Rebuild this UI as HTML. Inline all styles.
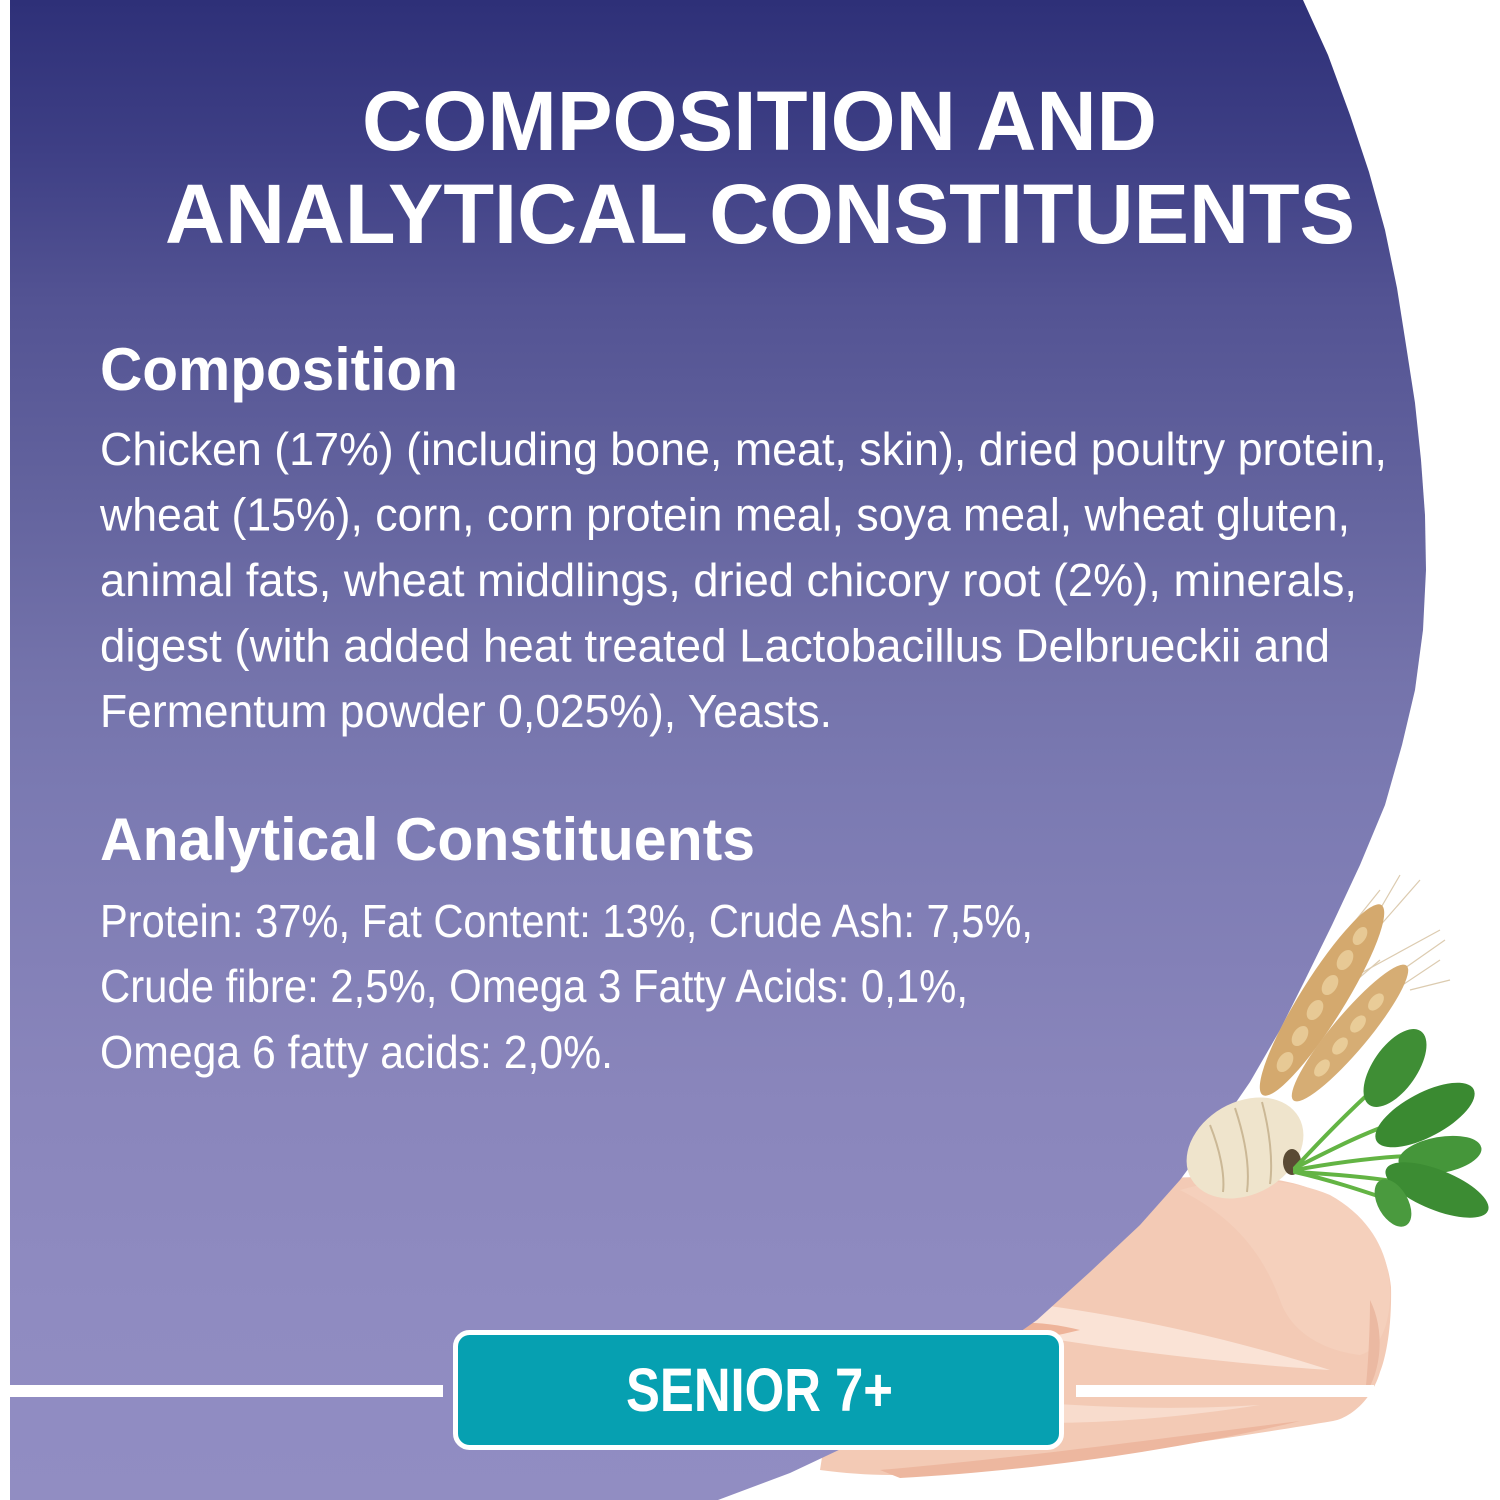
<!DOCTYPE html>
<html>
<head>
<meta charset="utf-8">
<style>
html,body{margin:0;padding:0;background:#fff;}
svg{display:block;}
</style>
</head>
<body>
<svg width="1500" height="1500" viewBox="0 0 1500 1500" xmlns="http://www.w3.org/2000/svg">
<defs>
<linearGradient id="bg" gradientUnits="userSpaceOnUse" x1="0" y1="0" x2="0" y2="1500">
<stop offset="0" stop-color="#2e3078"/>
<stop offset="0.1" stop-color="#3e3f85"/>
<stop offset="0.2" stop-color="#535393"/>
<stop offset="0.33" stop-color="#63639e"/>
<stop offset="0.45" stop-color="#7473ab"/>
<stop offset="0.53" stop-color="#7b7ab2"/>
<stop offset="0.72" stop-color="#8985bb"/>
<stop offset="0.87" stop-color="#8f8bc1"/>
<stop offset="1" stop-color="#918dc2"/>
</linearGradient>
</defs>
<rect width="1500" height="1500" fill="#fff"/>

<!-- chicken (under purple) -->
<g>
<path d="M860,1215 C1000,1190 1150,1172 1262,1178 C1340,1185 1385,1230 1391,1287 C1392,1330 1385,1360 1380,1372 C1372,1400 1350,1418 1333,1421 C1250,1435 1120,1455 1000,1467 C930,1476 880,1478 820,1470 Z" fill="#f3cab5"/>
<path d="M1180,1190 C1230,1175 1290,1178 1330,1195 C1375,1220 1392,1260 1390,1300 C1388,1330 1378,1350 1360,1355 C1320,1350 1290,1330 1280,1300 C1265,1260 1240,1220 1180,1190 Z" fill="#f5d0bc"/>
<path d="M1000,1300 C1100,1310 1220,1335 1330,1370 C1250,1365 1120,1352 1000,1330 Z" fill="#fae3d6"/>
<path d="M960,1330 C1000,1320 1040,1320 1080,1330 C1040,1340 1000,1345 960,1345 Z" fill="#eeb49a"/>
<path d="M950,1395 C1050,1405 1150,1412 1260,1405 C1150,1422 1050,1428 950,1418 Z" fill="#f8dccd"/>
<path d="M880,1470 C1000,1460 1150,1440 1300,1421 C1200,1445 1050,1470 900,1478 Z" fill="#edb79f"/>
<path d="M1370,1300 C1385,1330 1382,1370 1365,1395 C1368,1370 1370,1330 1370,1300 Z" fill="#ebb9a2"/>
</g>

<!-- purple shape -->
<polygon fill="url(#bg)" points="10,0 1303,0 1328,55 1350,115 1369,172 1385,230 1397,288 1406,345 1415,403 1421,460 1425,515 1426,570 1423,630 1415,690 1402,745 1385,805 1360,865 1332,925 1305,980 1280,1030 1250,1082 1217,1130 1180,1180 1140,1225 1090,1272 1037,1320 980,1360 920,1400 860,1440 790,1473 718,1500 10,1500"/>

<!-- wheat -->
<g>
<g stroke="#dccbb0" stroke-width="1.2" fill="none">
<line x1="1330" y1="990" x2="1440" y2="930"/>
<line x1="1350" y1="960" x2="1420" y2="880"/>
<line x1="1365" y1="935" x2="1400" y2="875"/>
<line x1="1380" y1="1000" x2="1440" y2="960"/>
<line x1="1395" y1="975" x2="1445" y2="940"/>
<line x1="1310" y1="1020" x2="1380" y2="960"/>
<line x1="1340" y1="940" x2="1380" y2="890"/>
<line x1="1300" y1="1050" x2="1350" y2="980"/>
<line x1="1410" y1="990" x2="1450" y2="980"/>
</g>
<ellipse cx="1322" cy="1000" rx="112" ry="22" transform="rotate(-58 1322 1000)" fill="#d4a96e"/>
<g fill="#e7c995">
<ellipse cx="1285" cy="1062" rx="11" ry="7" transform="rotate(-58 1285 1062)"/>
<ellipse cx="1300" cy="1036" rx="11" ry="7" transform="rotate(-58 1300 1036)"/>
<ellipse cx="1315" cy="1010" rx="11" ry="7" transform="rotate(-58 1315 1010)"/>
<ellipse cx="1330" cy="985" rx="11" ry="7" transform="rotate(-58 1330 985)"/>
<ellipse cx="1345" cy="960" rx="11" ry="7" transform="rotate(-58 1345 960)"/>
<ellipse cx="1360" cy="936" rx="10" ry="6" transform="rotate(-58 1360 936)"/>
</g>
<ellipse cx="1350" cy="1033" rx="88" ry="18" transform="rotate(-50 1350 1033)" fill="#d6ad74"/>
<g fill="#e9cc98">
<ellipse cx="1322" cy="1068" rx="10" ry="6" transform="rotate(-50 1322 1068)"/>
<ellipse cx="1340" cy="1046" rx="10" ry="6" transform="rotate(-50 1340 1046)"/>
<ellipse cx="1358" cy="1024" rx="10" ry="6" transform="rotate(-50 1358 1024)"/>
<ellipse cx="1376" cy="1002" rx="10" ry="6" transform="rotate(-50 1376 1002)"/>
</g>
</g>

<!-- root -->
<g>
<ellipse cx="1245" cy="1148" rx="62" ry="46" transform="rotate(-30 1245 1148)" fill="#efe4cc"/>
<g stroke="#cbb896" stroke-width="2" fill="none">
<path d="M1210,1125 C1220,1150 1225,1175 1223,1192"/>
<path d="M1235,1108 C1245,1138 1250,1168 1247,1192"/>
<path d="M1262,1102 C1270,1132 1273,1162 1270,1184"/>
</g>
<ellipse cx="1292" cy="1162" rx="9" ry="13" fill="#5a4a34"/>
</g>

<!-- spinach -->
<g>
<g stroke="#63b444" stroke-width="4" fill="none" stroke-linecap="round">
<path d="M1295,1168 C1330,1130 1360,1100 1395,1070"/>
<path d="M1295,1168 C1340,1145 1380,1125 1420,1115"/>
<path d="M1295,1170 C1350,1160 1400,1155 1440,1155"/>
<path d="M1295,1172 C1350,1175 1400,1180 1440,1190"/>
<path d="M1295,1172 C1330,1180 1360,1190 1390,1200"/>
</g>
<ellipse cx="1395" cy="1068" rx="45" ry="22" transform="rotate(-55 1395 1068)" fill="#3f8e35"/>
<ellipse cx="1425" cy="1115" rx="55" ry="22" transform="rotate(-28 1425 1115)" fill="#3a8a31"/>
<ellipse cx="1440" cy="1155" rx="42" ry="18" transform="rotate(-10 1440 1155)" fill="#45963a"/>
<ellipse cx="1437" cy="1190" rx="55" ry="20" transform="rotate(22 1437 1190)" fill="#3c8c33"/>
<ellipse cx="1393" cy="1203" rx="26" ry="15" transform="rotate(60 1393 1203)" fill="#4a9a3e"/>
</g>

<!-- white lines -->
<rect x="10" y="1385" width="433" height="12" fill="#fff"/>
<rect x="1076" y="1385" width="298" height="12" fill="#fff"/>

<!-- senior box -->
<rect x="455.5" y="1332.5" width="606" height="115" rx="14" ry="14" fill="#06a0b1" stroke="#fff" stroke-width="5"/>
<text x="626" y="1411" font-family="'Liberation Sans Narrow','Liberation Sans',sans-serif" font-weight="bold" font-size="61" fill="#fff" textLength="267" lengthAdjust="spacingAndGlyphs">SENIOR 7+</text>

<!-- title -->
<g font-family="'Liberation Sans',sans-serif" font-weight="bold" fill="#fff">
<text x="362" y="150" font-size="84" textLength="795" lengthAdjust="spacingAndGlyphs">COMPOSITION AND</text>
<text x="165" y="243" font-size="84" textLength="1190" lengthAdjust="spacingAndGlyphs">ANALYTICAL CONSTITUENTS</text>
<text x="100" y="390" font-size="60" textLength="358" lengthAdjust="spacingAndGlyphs">Composition</text>
<text x="100" y="860" font-size="60" textLength="655" lengthAdjust="spacingAndGlyphs">Analytical Constituents</text>
</g>

<g font-family="'Liberation Sans',sans-serif" font-size="46" fill="#fff">
<text x="100" y="465" textLength="1287" lengthAdjust="spacingAndGlyphs">Chicken (17%) (including bone, meat, skin), dried poultry protein,</text>
<text x="100" y="530.5" textLength="1250" lengthAdjust="spacingAndGlyphs">wheat (15%), corn, corn protein meal, soya meal, wheat gluten,</text>
<text x="100" y="596" textLength="1257" lengthAdjust="spacingAndGlyphs">animal fats, wheat middlings, dried chicory root (2%), minerals,</text>
<text x="100" y="661.5" textLength="1230" lengthAdjust="spacingAndGlyphs">digest (with added heat treated Lactobacillus Delbrueckii and</text>
<text x="100" y="727" textLength="732" lengthAdjust="spacingAndGlyphs">Fermentum powder 0,025%), Yeasts.</text>
<text x="100" y="937" textLength="933" lengthAdjust="spacingAndGlyphs">Protein: 37%, Fat Content: 13%, Crude Ash: 7,5%,</text>
<text x="100" y="1002" textLength="868" lengthAdjust="spacingAndGlyphs">Crude fibre: 2,5%, Omega 3 Fatty Acids: 0,1%,</text>
<text x="100" y="1068" textLength="513" lengthAdjust="spacingAndGlyphs">Omega 6 fatty acids: 2,0%.</text>
</g>
</svg>
</body>
</html>
